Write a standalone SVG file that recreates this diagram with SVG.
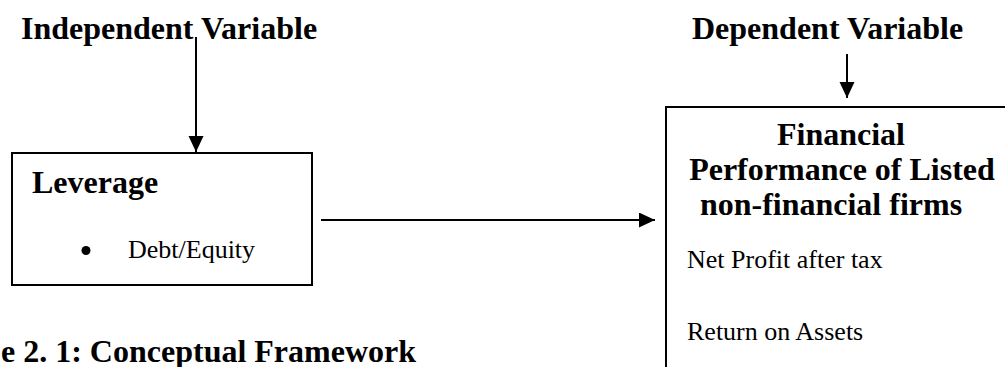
<svg xmlns="http://www.w3.org/2000/svg" width="1005" height="367" viewBox="0 0 1005 367">
<style>
.b{font-family:"Liberation Serif","Times New Roman",serif;font-weight:bold;font-size:32px;fill:#000}
.r{font-family:"Liberation Serif","Times New Roman",serif;font-size:26px;fill:#000}
.box{fill:#fff;stroke:#000;stroke-width:2}
.c{stroke:#000;stroke-width:2;fill:none;marker-end:url(#ah)}
</style>
<defs>
<marker id="ah" markerUnits="userSpaceOnUse" markerWidth="17" markerHeight="16" refX="16" refY="7.5" orient="auto">
<path d="M0,0 L16,7.5 L0,15 Z" fill="#000"/>
</marker>
</defs>
<rect width="1005" height="367" fill="#fff"/>
<g id="label-independent"><text class="b" x="21" y="39">Independent Variable</text></g>
<g id="label-dependent"><text class="b" x="692" y="39">Dependent Variable</text></g>
<g id="node-leverage">
<rect class="box" x="12" y="153" width="300" height="132"/>
<text class="b" x="32" y="193">Leverage</text>
<circle cx="86" cy="250.5" r="4.5" fill="#000"/>
<text class="r" x="128" y="258">Debt/Equity</text>
</g>
<g id="node-performance">
<rect class="box" x="666" y="107" width="400" height="300"/>
<text class="b" x="841" y="145" text-anchor="middle">Financial</text>
<text class="b" x="842" y="180" text-anchor="middle">Performance of Listed</text>
<text class="b" x="831" y="215" text-anchor="middle">non-financial firms</text>
<text class="r" x="687" y="268">Net Profit after tax</text>
<text class="r" x="687" y="340">Return on Assets</text>
</g>
<g id="caption"><text class="b" x="1" y="362">e 2. 1: Conceptual Framework</text></g>
<g id="connectors">
<line class="c" x1="196" y1="37" x2="196" y2="152"/>
<line class="c" x1="847" y1="54" x2="847" y2="98"/>
<line class="c" x1="321" y1="220" x2="655" y2="220"/>
</g>
</svg>
